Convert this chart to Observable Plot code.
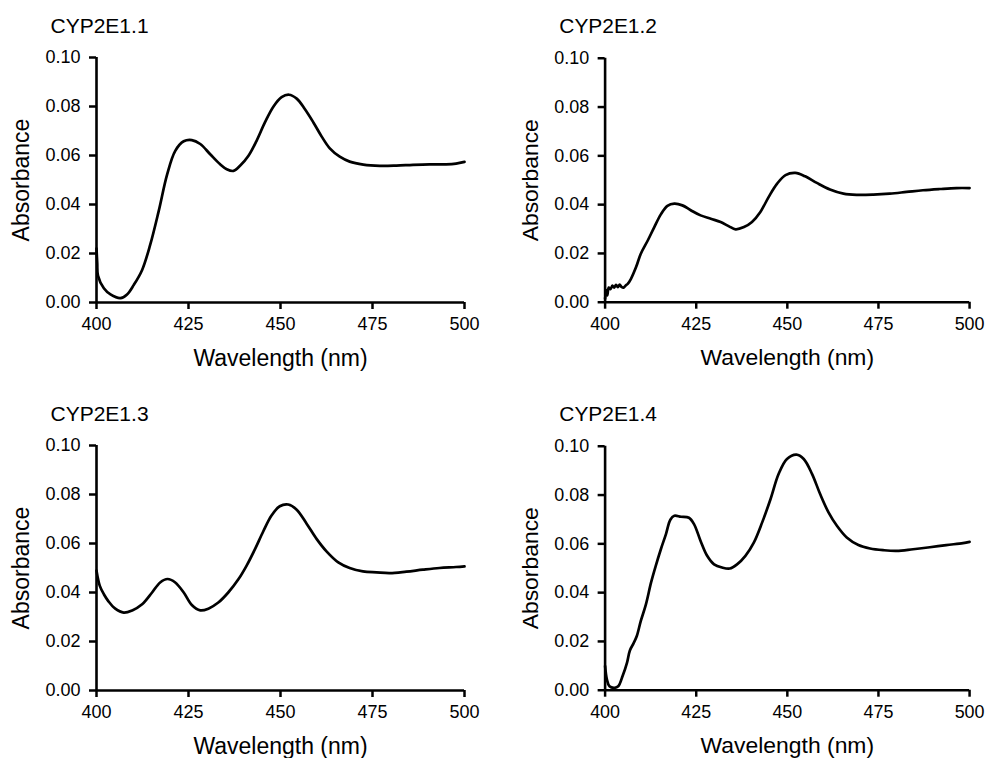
<!DOCTYPE html>
<html>
<head>
<meta charset="utf-8">
<script src="https://cdn.jsdelivr.net/npm/d3@7"></script>
<script src="https://cdn.jsdelivr.net/npm/@observablehq/plot@0.6"></script>
<style>
  html, body { margin: 0; padding: 0; background: #fff; overflow: hidden; }
  #wrap { position: relative; width: 987px; height: 758px; background: #fff; }
  .panel { position: absolute; }
</style>
</head>
<body>
<div id="wrap"></div>
<script>
// ---- Data ----
const panelTitles = ["CYP2E1.1", "CYP2E1.2", "CYP2E1.3", "CYP2E1.4"];
const xTicks = [400, 425, 450, 475, 500];
const yTicks = [0, 0.02, 0.04, 0.06, 0.08, 0.10];
const xLabel = "Wavelength (nm)";
const yLabel = "Absorbance";

const wavelength1 = [400, 400.2, 400.4, 402.0, 403.8, 406.5, 408.3, 410.1, 412.4, 414.6, 416.9, 419.2, 421.4, 423.7, 425.9, 428.2, 430.9, 433.6, 435.4, 437.2, 439.0, 441.3, 443.5, 445.8, 448.1, 450.3, 452.3, 454.4, 456.6, 458.9, 461.2, 463.4, 466.1, 468.8, 472.5, 477.0, 481.5, 486.0, 490.5, 495.0, 497.7, 500];
const absorbance1 = [0.022, 0.016, 0.011, 0.0058, 0.0033, 0.0018, 0.0033, 0.0071, 0.0133, 0.0236, 0.0373, 0.0523, 0.0619, 0.0658, 0.0663, 0.0647, 0.0605, 0.0564, 0.0544, 0.0537, 0.0558, 0.0599, 0.0660, 0.0736, 0.0800, 0.0838, 0.0848, 0.0832, 0.0790, 0.0736, 0.0677, 0.0629, 0.0595, 0.0575, 0.0563, 0.0558, 0.0559, 0.0562, 0.0564, 0.0564, 0.0567, 0.0574];

const wavelength2 = [400, 400.3, 400.6, 401.0, 401.5, 402.0, 402.5, 403.0, 403.5, 404.0, 404.5, 405.1, 405.6, 406.2, 407.1, 408.5, 409.8, 411.7, 413.5, 415.3, 417.1, 419.0, 421.2, 423.5, 426.2, 429.0, 431.7, 434.0, 435.8, 438.1, 440.3, 442.6, 444.9, 447.2, 449.5, 452.2, 454.9, 458.1, 461.7, 465.4, 469.0, 473.6, 478.1, 482.7, 487.2, 491.8, 496.4, 500];
const absorbance2 = [0.0015, 0.0050, 0.0028, 0.0060, 0.0054, 0.0068, 0.0060, 0.0071, 0.0062, 0.0072, 0.0063, 0.0060, 0.0068, 0.0075, 0.0096, 0.0144, 0.0199, 0.0253, 0.0308, 0.0360, 0.0395, 0.0404, 0.0397, 0.0377, 0.0356, 0.0342, 0.0329, 0.0311, 0.0299, 0.0308, 0.0329, 0.0370, 0.0432, 0.0486, 0.0521, 0.0530, 0.0516, 0.0489, 0.0462, 0.0445, 0.0440, 0.0441, 0.0445, 0.0452, 0.0459, 0.0464, 0.0468, 0.0468];

const wavelength3 = [400, 400.9, 402.0, 403.3, 405.1, 407.4, 409.7, 412.4, 415.1, 417.3, 419.3, 421.4, 423.7, 425.9, 428.2, 430.4, 433.1, 435.8, 438.6, 440.8, 443.1, 445.3, 447.6, 449.8, 452.1, 454.4, 457.1, 459.8, 462.5, 465.7, 468.8, 472.4, 476.1, 479.7, 484.2, 488.7, 493.2, 497.7, 500];
const absorbance3 = [0.0489, 0.0427, 0.0393, 0.0363, 0.0334, 0.0318, 0.0327, 0.0352, 0.0400, 0.0441, 0.0455, 0.0441, 0.0400, 0.0349, 0.0327, 0.0334, 0.0359, 0.0400, 0.0455, 0.0510, 0.0578, 0.0649, 0.0715, 0.0752, 0.0759, 0.0738, 0.0681, 0.0619, 0.0568, 0.0523, 0.0500, 0.0486, 0.0482, 0.0479, 0.0485, 0.0493, 0.0500, 0.0504, 0.0507];

const wavelength4 = [400, 400.5, 401.2, 402.6, 403.6, 404.8, 406.0, 406.8, 407.8, 408.7, 409.8, 411.2, 412.6, 413.9, 415.3, 416.7, 417.9, 419.0, 420.8, 423.0, 424.4, 426.2, 428.0, 429.9, 432.1, 434.2, 436.2, 438.5, 440.8, 443.1, 445.4, 447.6, 449.9, 452.5, 454.5, 456.8, 459.0, 461.3, 463.6, 466.3, 469.5, 472.7, 476.3, 480.0, 484.5, 489.1, 493.6, 498.2, 500];
const absorbance4 = [0.0099, 0.0044, 0.0016, 0.0010, 0.0016, 0.0058, 0.0112, 0.0163, 0.0192, 0.0222, 0.0284, 0.0352, 0.0441, 0.0510, 0.0578, 0.0640, 0.0699, 0.0715, 0.0711, 0.0707, 0.0681, 0.0612, 0.0551, 0.0516, 0.0503, 0.0499, 0.0516, 0.0551, 0.0605, 0.0688, 0.0784, 0.0886, 0.0948, 0.0966, 0.0948, 0.0886, 0.0804, 0.0729, 0.0674, 0.0626, 0.0595, 0.0581, 0.0574, 0.0571, 0.0578, 0.0586, 0.0595, 0.0603, 0.0608];

const series = [
  [wavelength1, absorbance1],
  [wavelength2, absorbance2],
  [wavelength3, absorbance3],
  [wavelength4, absorbance4]
];

// ---- Layout ----
const layout = [
  {left: 0,   top: 0,   plotW: 368},
  {left: 509, top: 1,   plotW: 366},
  {left: 0,   top: 388, plotW: 368},
  {left: 509, top: 389, plotW: 366}
];
const FONT = "'Liberation Sans', Arial, Helvetica, sans-serif";
const mL = 96, mT = 57, mB = 75, plotH = 245;

const wrap = document.getElementById("wrap");
series.forEach(([wl, ab], i) => {
  const data = wl.map((w, j) => ({wavelength: w, absorbance: ab[j]}));
  const L = layout[i];
  const mR = 18;
  const chart = Plot.plot({
    width: mL + L.plotW + mR,
    height: mT + plotH + mB,
    marginLeft: mL,
    marginRight: mR,
    marginTop: mT,
    marginBottom: mB,
    style: {fontFamily: FONT, fontSize: "18px", color: "#000", background: "#fff", overflow: "visible"},
    x: {domain: [400, 500], label: null},
    y: {domain: [0, 0.1], label: null},
    marks: [
      Plot.axisX(xTicks, {tickSize: 7, tickPadding: 8, fontSize: 18, strokeWidth: 2.5, label: null}),
      Plot.axisY(yTicks, {tickSize: 7, tickPadding: 9, fontSize: 18, strokeWidth: 2.5, tickFormat: d3.format(".2f"), label: null}),
      Plot.ruleY([0], {stroke: "#000", strokeWidth: 2.6}),
      Plot.ruleX([400], {stroke: "#000", strokeWidth: 2.6}),
      Plot.line(data, {x: "wavelength", y: "absorbance", stroke: "#000", strokeWidth: 2.7, curve: "catmull-rom"}),
      Plot.text([panelTitles[i]], {frameAnchor: "top-left", textAnchor: "start", lineAnchor: "bottom", dx: -46, dy: -25, fontSize: 21, fill: "#000"}),
      Plot.text([xLabel], {frameAnchor: "bottom", textAnchor: "middle", lineAnchor: "middle", dy: 56, fontSize: 23, fill: "#000"}),
      Plot.text([yLabel], {frameAnchor: "left", textAnchor: "middle", lineAnchor: "middle", rotate: -90, dx: -75, fontSize: 23, fill: "#000"})
    ]
  });
  const div = document.createElement("div");
  div.className = "panel";
  div.style.left = L.left + "px";
  div.style.top = L.top + "px";
  div.appendChild(chart);
  wrap.appendChild(div);
});
</script>
</body>
</html>
